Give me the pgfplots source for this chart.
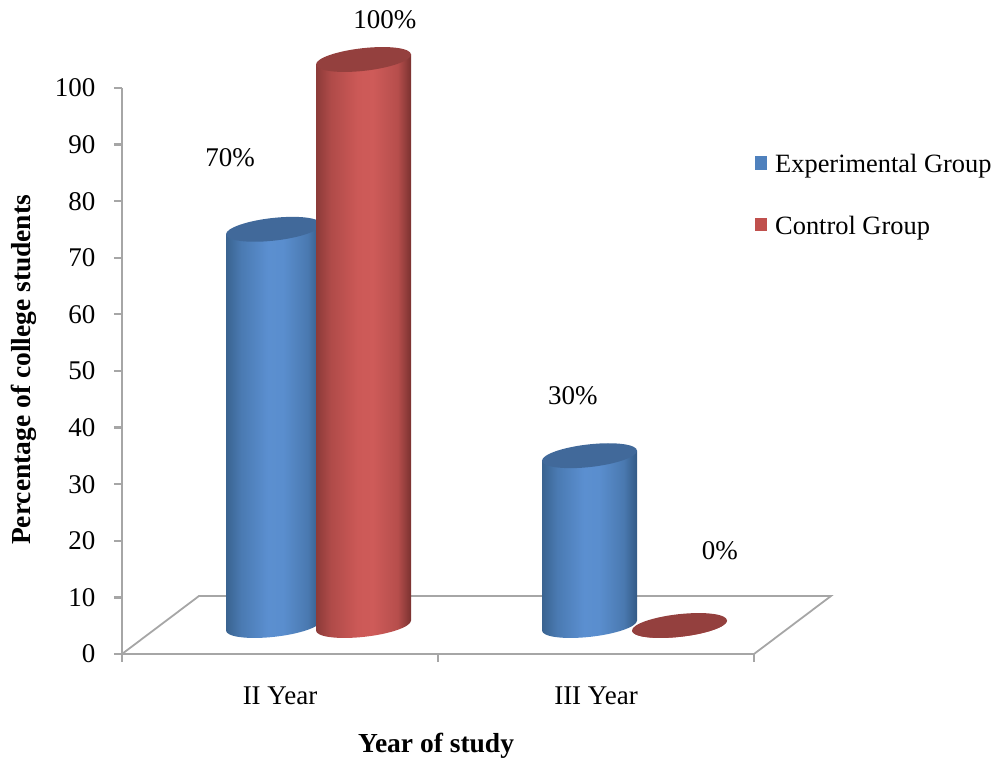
\documentclass[border=0pt]{standalone}
\usepackage{pgfplots}
\pgfplotsset{compat=1.18}
\usepackage{fontspec}
\setmainfont{Liberation Serif}

\definecolor{axisgray}{HTML}{A6A6A6}
\definecolor{blueswatch}{HTML}{4F81BD}
\definecolor{redswatch}{HTML}{C0504D}
\definecolor{bluetop}{HTML}{41699A}
\definecolor{redtop}{HTML}{94403E}
\definecolor{bA}{HTML}{3A6390}
\definecolor{bB}{HTML}{4A7AB2}
\definecolor{bC}{HTML}{5B8FD0}
\definecolor{bD}{HTML}{5A8ECE}
\definecolor{bE}{HTML}{4A79B0}
\definecolor{bF}{HTML}{335A86}
\definecolor{rA}{HTML}{8C3B39}
\definecolor{rB}{HTML}{B04B49}
\definecolor{rC}{HTML}{CC5957}
\definecolor{rD}{HTML}{CE5B59}
\definecolor{rE}{HTML}{B64E4C}
\definecolor{rF}{HTML}{7A3230}

% Side shading of the cylinders; the bar's width spans 25bp to 75bp
\pgfdeclarehorizontalshading{cylblue}{100bp}{
  color(0bp)=(bA);
  color(25bp)=(bA);
  color(33bp)=(bB);
  color(47bp)=(bC);
  color(55bp)=(bD);
  color(68bp)=(bE);
  color(75bp)=(bF);
  color(100bp)=(bF)}
\pgfdeclarehorizontalshading{cylred}{100bp}{
  color(0bp)=(rA);
  color(25bp)=(rA);
  color(33bp)=(rB);
  color(47bp)=(rC);
  color(55bp)=(rD);
  color(68bp)=(rE);
  color(75bp)=(rF);
  color(100bp)=(rF)}

% One cylinder: body reaching down to the floor, then the lit top face.
% \barvalue comes from the plotted y value; one percent is 5.66pt.
\newcommand\drawcylinder[2]{%
  \pgfmathsetlengthmacro\bodyh{5.66pt*\barvalue}%
  \pgfpathmoveto{\pgfqpoint{-47.5pt}{-5pt}}%
  \pgfpathlineto{\pgfpoint{-47.5pt}{-5pt-\bodyh}}%
  \pgfpatharcaxes{180}{360}{\pgfqpoint{47.5pt}{5pt}}{\pgfqpoint{0pt}{11.4pt}}%
  \pgfpathlineto{\pgfqpoint{47.5pt}{5pt}}%
  \pgfpathclose
  \pgfshadepath{#1}{0}%
  \pgfusepath{discard}%
  \pgfsetfillcolor{#2}%
  \pgfpathellipse{\pgfpointorigin}{\pgfqpoint{47.5pt}{5pt}}{\pgfqpoint{0pt}{11.4pt}}%
  \pgfusepathqfill
}
\pgfdeclareplotmark{cylinderblue}{\drawcylinder{cylblue}{bluetop}}
\pgfdeclareplotmark{cylinderred}{\drawcylinder{cylred}{redtop}}

\newcommand\chartfont{\fontsize{27}{32}\selectfont}
\newcommand\keyfont{\fontsize{26.4}{32}\selectfont}
\newcommand\titlefont{\fontsize{27.5}{32}\selectfont}

\begin{document}
\begin{tikzpicture}
\path[use as bounding box] (0,0) rectangle (998pt,763pt);
\begin{axis}[
  at={(122pt,109pt)}, anchor=origin,
  width=632pt, height=566pt, scale only axis,
  xmin=0, xmax=2, ymin=0, ymax=100,
  clip=false,
  axis x line=bottom, axis y line=left,
  axis line style={axisgray, line width=2.2pt, -},
  tick style={axisgray, line width=2.2pt},
  tick align=outside, major tick length=8pt,
  xtick={0,1,2}, xticklabels={II Year,III Year},
  x tick label as interval,
  ytick distance=10,
  /pgf/number format/assume math mode=true,
  tick label style={font=\chartfont},
  xticklabel style={yshift=-21pt},
  yticklabel style={xshift=-15pt},
  xlabel={\textbf{Year of study}},
  ylabel={\textbf{Percentage of college students}},
  every axis x label/.style={at={(axis description cs:0.497,-0.163)}, anchor=center, font=\titlefont},
  every axis y label/.style={at={(axis description cs:-0.155,0.502)}, anchor=center, rotate=90, font=\titlefont},
]
% Floor of the plot
\draw[axisgray, line width=1.8pt] (axis cs:0,0) -- (axis cs:0.2437,10.25)
  -- (axis cs:2.2437,10.25) -- (axis cs:2,0);

% Experimental Group
\addplot[only marks, scatter, mark=cylinderblue, draw=none,
  xshift=-6.5pt, yshift=28.5pt,
  visualization depends on={rawy \as \barvalue}]
  coordinates {(0.5,70) (1.5,30)};

% Control Group
\addplot[only marks, scatter, mark=cylinderred, draw=none,
  xshift=83.5pt, yshift=28.5pt,
  visualization depends on={rawy \as \barvalue}]
  coordinates {(0.5,100) (1.5,0)};

% Value labels
\node[font=\chartfont] at (axis cs:0.342,87.6) {70\%};
\node[font=\chartfont] at (axis cs:0.832,112) {100\%};
\node[font=\chartfont] at (axis cs:1.427,45.7) {30\%};
\node[font=\chartfont] at (axis cs:1.892,18.3) {0\%};

% Key
\fill[blueswatch] (axis cs:2.003,85.5) rectangle (axis cs:2.042,88);
\fill[redswatch] (axis cs:2.003,74.7) rectangle (axis cs:2.042,77);
\node[font=\keyfont, anchor=base west, inner sep=0pt] at (axis cs:2.0665,85.0) {Experimental Group};
\node[font=\keyfont, anchor=base west, inner sep=0pt] at (axis cs:2.0665,74.1) {Control Group};
\end{axis}
\end{tikzpicture}
\end{document}
